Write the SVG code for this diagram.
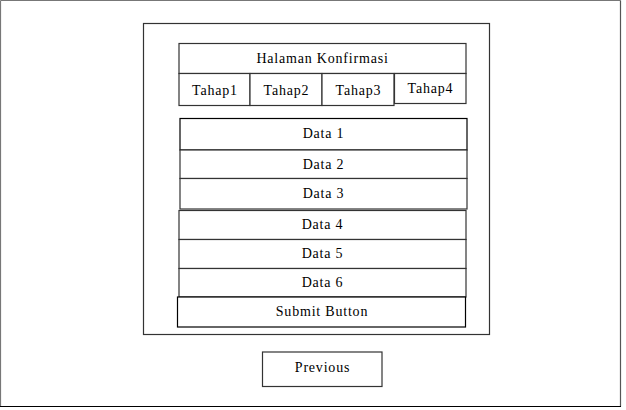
<svg xmlns="http://www.w3.org/2000/svg" width="626" height="410" viewBox="0 0 626 410">
<style>
rect{fill:#fff;stroke:#333;stroke-width:1.2}
.dk{stroke:#000}
text{font-family:"Liberation Serif","Times New Roman",serif;font-size:14px;letter-spacing:0.8px;fill:#000;text-anchor:middle;dominant-baseline:central}
</style>
<rect x="0" y="0" width="626" height="410" style="stroke:none"/>
<g id="frame">
<line x1="0.5" y1="0.5" x2="620.5" y2="0.5" stroke="#777" stroke-width="1.2"/>
<line x1="0.5" y1="0.5" x2="0.5" y2="406.5" stroke="#777" stroke-width="1.2"/>
<line x1="620.5" y1="0.5" x2="620.5" y2="406.5" stroke="#555" stroke-width="1.2"/>
<line x1="0" y1="406.5" x2="621" y2="406.5" stroke="#000" stroke-width="1.2"/>
</g>
<g id="panel"><rect x="143.5" y="23.5" width="346" height="311"/></g>
<g id="header"><rect x="179" y="43.5" width="287" height="30"/><text x="322.5" y="58.5">Halaman Konfirmasi</text></g>
<g id="tahap1"><rect x="179" y="73.5" width="71" height="32"/><text x="215" y="90">Tahap1</text></g>
<g id="tahap2"><rect x="250" y="73.5" width="72" height="32"/><text x="286.5" y="90">Tahap2</text></g>
<g id="tahap3"><rect x="322" y="73.5" width="72" height="32"/><text x="358.5" y="90">Tahap3</text></g>
<g id="tahap4"><rect x="394.5" y="73.5" width="71.5" height="30"/><text x="430.5" y="88.5">Tahap4</text></g>
<g id="data1"><rect class="dk" x="180" y="118.5" width="287" height="31.5"/><text x="323.5" y="133.5">Data 1</text></g>
<g id="data2"><rect x="180" y="150" width="287" height="28.5"/><text x="323.5" y="164.5">Data 2</text></g>
<g id="data3"><rect x="180" y="178.5" width="287" height="30.5"/><text x="323.5" y="193.5">Data 3</text></g>
<g id="data4"><rect x="179" y="210.5" width="287" height="29"/><text x="322.5" y="224.5">Data 4</text></g>
<g id="data5"><rect x="179" y="239.5" width="287" height="29"/><text x="322.5" y="253.5">Data 5</text></g>
<g id="data6"><rect x="179" y="268.5" width="287" height="28.5"/><text x="322.5" y="282">Data 6</text></g>
<g id="submit"><rect class="dk" x="177.5" y="297" width="288" height="30"/><text x="322" y="311.5">Submit Button</text></g>
<g id="previous"><rect x="262.5" y="352" width="119.5" height="34.5"/><text x="322.5" y="367">Previous</text></g>
<g id="connectors"/>
</svg>
